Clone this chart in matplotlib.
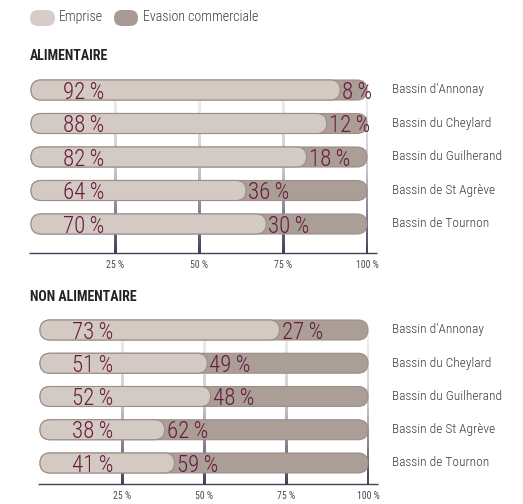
import matplotlib
matplotlib.use("Agg")
import matplotlib.pyplot as plt
from matplotlib.patches import FancyBboxPatch
from matplotlib.colors import LinearSegmentedColormap
from matplotlib import font_manager as fm
import numpy as np

# ---------------- data ----------------
basins = ["Bassin d'Annonay", "Bassin du Cheylard", "Bassin du Guilherand",
          "Bassin de St Agrève", "Bassin de Tournon"]
alim_emprise = [92, 88, 82, 64, 70]
alim_evasion = [8, 12, 18, 36, 30]
nonalim_emprise = [73, 51, 52, 38, 41]
nonalim_evasion = [27, 49, 48, 62, 59]
tick_values = [25, 50, 75, 100]
tick_labels = ["25 %", "50 %", "75 %", "100 %"]
legend_labels = ["Emprise", "Evasion commerciale"]
section_titles = ["ALIMENTAIRE", "NON ALIMENTAIRE"]

# ---------------- style ----------------
W, H = 523, 504
names = {f.name for f in fm.fontManager.ttflist}
cond = [n for n in ["Roboto Condensed", "Liberation Sans Narrow",
                    "Open Sans Condensed", "DejaVu Sans"] if n in names]
NARROW = cond[:1] + ["DejaVu Sans"]
STRETCH = "condensed"
C_LIGHT = "#d4cac4"
C_DARK = "#ab9e97"
C_EDGE = "#9c8d86"
C_TXT = "#661c3e"
C_LBL = "#3c3c3c"
grid_cmap = LinearSegmentedColormap.from_list("g", ["#f4f2f6", "#c9c3cf", "#4a3f58"])

fig = plt.figure(figsize=(W / 100, H / 100), dpi=100)
fig.patch.set_facecolor("white")


def px_axes(x0, x1, y0, y1):
    return fig.add_axes([x0 / W, 1 - y1 / H, (x1 - x0) / W, (y1 - y0) / H])


def pill(ax, x0, x1, yc, h, aspect, fc, z):
    r = h / aspect / 2
    p = FancyBboxPatch((x0, yc - h / 2), x1 - x0, h,
                       boxstyle=f"round,pad=0,rounding_size={r}",
                       mutation_aspect=aspect, fc=fc, ec=C_EDGE, lw=0.8,
                       zorder=z, clip_on=False)
    ax.add_patch(p)


def draw_panel(ax, emprise, evasion, ax_px_w, ax_px_h, ylim, bar_h):
    px_x = ax_px_w / 100
    px_y = ax_px_h / abs(ylim[0] - ylim[1])
    aspect = px_x / px_y
    n = len(emprise)
    rows = np.arange(n)
    # gradient gridlines
    grad = np.linspace(0, 1, 200).reshape(-1, 1)
    half = 1.4 / px_x
    for tv in tick_values:
        ax.imshow(grad, cmap=grid_cmap, aspect="auto", origin="upper",
                  extent=(tv - half, tv + half, ylim[0], rows[0]),
                  zorder=1, interpolation="bilinear")
    ax.set_xlim(0, 100)
    ax.set_ylim(*ylim)
    # bars
    for i in rows:
        total = emprise[i] + evasion[i]
        pill(ax, 0, total, i, bar_h, aspect, C_DARK, 3)
        pill(ax, 0, emprise[i], i, bar_h, aspect, C_LIGHT, 4)
        ax.annotate(f"{emprise[i]}\u2009%", xy=(0, i), xytext=(23, -6.3),
                    textcoords="offset points", ha="left", va="baseline",
                    fontsize=16.5, color=C_TXT, family=NARROW,
                    fontstretch=STRETCH, fontweight="light", zorder=6)
        ax.annotate(f"{evasion[i]}\u2009%", xy=(emprise[i], i),
                    xytext=(1.5, -6.3),
                    textcoords="offset points", ha="left", va="baseline",
                    fontsize=16.5, color=C_TXT, family=NARROW,
                    fontstretch=STRETCH, fontweight="light", zorder=6)
        ax.text(1.074, i, basins[i], transform=ax.get_yaxis_transform(),
                ha="left", va="center", fontsize=9.6, color=C_LBL,
                family=NARROW, fontstretch=STRETCH, fontweight="light")
    # axis line
    ax.plot([-0.5, 103], [ylim[0], ylim[0]], color="#4a3f58", lw=1.0,
            clip_on=False, zorder=2, solid_capstyle="butt")
    for s in ax.spines.values():
        s.set_visible(False)
    ax.set_yticks([])
    ax.set_xticks(tick_values)
    ax.set_xticklabels(tick_labels, fontsize=7, color="#4a4a4a",
                       family=NARROW, fontstretch=STRETCH)
    ax.tick_params(axis="x", length=0, pad=5)
    ax.patch.set_alpha(0)


# top panel
ax1 = px_axes(31, 367, 70, 253)
draw_panel(ax1, alim_emprise, alim_evasion, 336, 183,
           (4.866, -0.597), 0.597)

# bottom panel
ax2 = px_axes(40, 368, 312, 484)
draw_panel(ax2, nonalim_emprise, nonalim_evasion, 328, 172,
           (4.632, -0.541), 0.60)

# titles
for title, ty in zip(section_titles, [56, 297]):
    fig.text(30 / W, 1 - ty / H, title, fontsize=10,
             fontweight="bold", color="#222222", family=NARROW,
             fontstretch=STRETCH, va="center")

# legend
lax = fig.add_axes([0, 0, 1, 1])
lax.set_xlim(0, W)
lax.set_ylim(H, 0)
lax.axis("off")
lax.patch.set_alpha(0)
for (x0, x1), fc, lbl, tx in [((30, 55), "#d6cdc8", legend_labels[0], 59),
                              ((114, 138), "#a89a95", legend_labels[1], 143)]:
    p = FancyBboxPatch((x0, 10), x1 - x0, 16,
                       boxstyle="round,pad=0,rounding_size=8",
                       fc=fc, ec="none")
    lax.add_patch(p)
    lax.text(tx, 17, lbl, fontsize=10, color=C_LBL, family=NARROW,
             fontstretch=STRETCH, fontweight="light", va="center", ha="left")

fig.savefig("out.png", dpi=100, facecolor="white")
